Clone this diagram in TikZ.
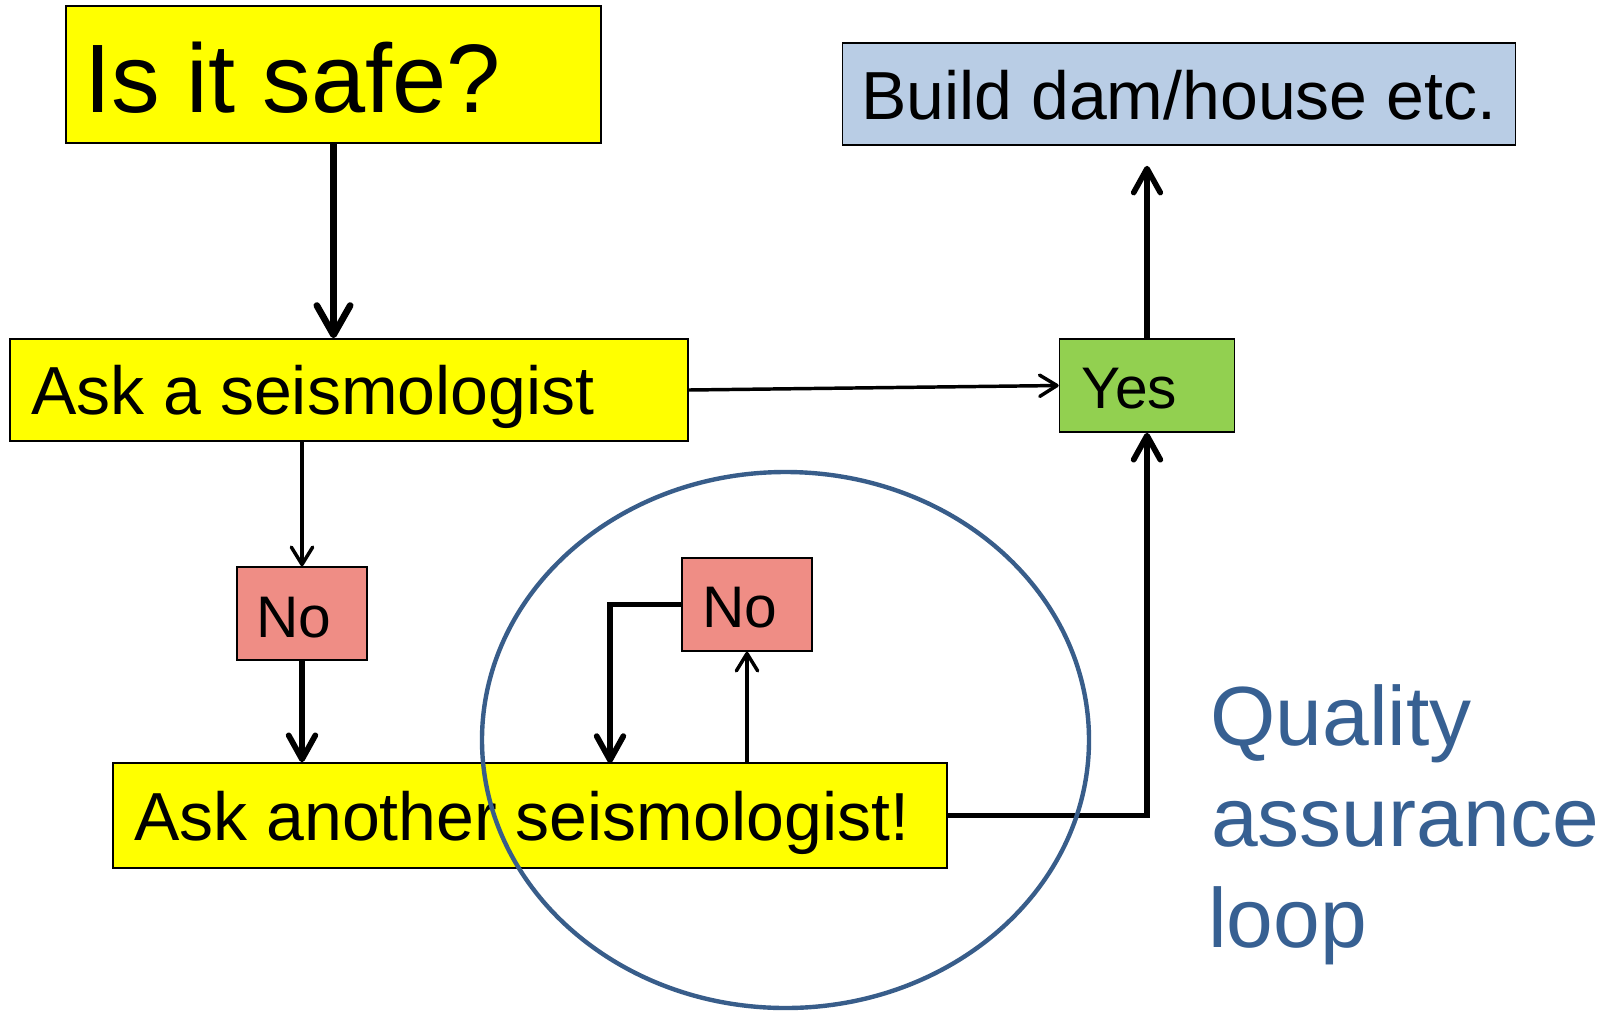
\documentclass[tikz,border=0pt]{standalone}
\usepackage{fontspec}
\setmainfont{Liberation Sans}
\usetikzlibrary{arrows.meta,shapes.geometric}
\definecolor{boxyellow}{HTML}{FFFF00}
\definecolor{boxblue}{HTML}{B9CDE5}
\definecolor{boxgreen}{HTML}{92D050}
\definecolor{boxred}{HTML}{EF8D85}
\definecolor{loopblue}{HTML}{385D8A}
\definecolor{qatext}{HTML}{376092}
\tikzset{
  box/.style={draw=black, line width=1.2pt, rectangle, inner sep=0pt},
  lbl/.style={anchor=base west, inner sep=0pt, text=black},
  bigtip/.style={-{Straight Barb[length=22pt,width=25pt,round]}, line width=5pt},
  thicktip/.style={-{Straight Barb[length=18pt,width=20pt,round]}, line width=4.3pt},
  midtip/.style={-{Straight Barb[length=18pt,width=20pt,round]}, line width=4.2pt},
  thintip/.style={-{Straight Barb[length=13pt,width=16pt,round]}, line width=2.6pt},
  qa/.style={anchor=base west, inner sep=0pt, text=qatext, font=\fontsize{63pt}{63pt}\selectfont}
}
\begin{document}
\begin{tikzpicture}[x=0.75pt, y=-0.75pt]
\useasboundingbox (0,0) rectangle (1617,1011);
% boxes
\node[box, fill=boxyellow, minimum width=401.25pt, minimum height=102.75pt] (safe) at (333.5,74.5) {};
\node[box, fill=boxyellow, minimum width=508.5pt, minimum height=76.5pt] (ask1) at (349,390) {};
\node[box, fill=boxblue, minimum width=504.75pt, minimum height=76.5pt] (build) at (1179,94) {};
\node[box, fill=boxgreen, minimum width=131.25pt, minimum height=69.75pt] (yes) at (1147,385.5) {};
\node[box, fill=boxred, minimum width=97.5pt, minimum height=69.75pt] (noL) at (302,613.5) {};
\node[box, fill=boxred, minimum width=97.5pt, minimum height=69.75pt] (noR) at (747,604.5) {};
\node[box, fill=boxyellow, minimum width=625.5pt, minimum height=78.75pt] (ask2) at (530,815.5) {};
% labels
\node[lbl, font=\fontsize{73pt}{73pt}\selectfont] (tsafe) at (84,112) {Is it safe?};
\node[lbl, font=\fontsize{51pt}{51pt}\selectfont] (task1) at (31,414) {Ask a seismologist};
\node[lbl, font=\fontsize{51pt}{51pt}\selectfont] (tbuild) at (861,119) {Build dam/house etc.};
\node[lbl, font=\fontsize{44pt}{44pt}\selectfont] (tyes) at (1081,408) {Yes};
\node[lbl, font=\fontsize{44pt}{44pt}\selectfont] (tnoL) at (256,637) {No};
\node[lbl, font=\fontsize{44pt}{44pt}\selectfont] (tnoR) at (702,627) {No};
\node[lbl, font=\fontsize{51pt}{51pt}\selectfont] (task2) at (134,840) {Ask another seismologist!};
\node[qa] (qa1) at (1210,745) {Quality};
\node[qa] (qa2) at (1211,846) {assurance};
\node[qa] (qa3) at (1208,947) {loop};
% connectors
\draw[bigtip] (safe.south) -- (safe.south |- ask1.north);
\draw[thintip] (noL.north |- ask1.south) -- (noL.north);
\draw[thicktip] (noL.south) -- (noL.south |- ask2.north);
\draw[thintip] (ask1.east) -- (yes.west);
\coordinate (buildend) at ([yshift=-15pt]build.south -| yes.north);
\draw[midtip] (yes.north) -- (buildend);
\draw[thicktip] (ask2.east) -| (yes.south);
\draw[thintip] (noR.south |- ask2.north) -- (noR.south);
\coordinate (loopend) at (610,763);
\draw[thicktip] (noR.west) -| (loopend);
% quality assurance loop ellipse
\node[draw=loopblue, line width=3.3pt, ellipse, minimum width=455.25pt, minimum height=402pt, inner sep=0pt] (loop) at (785.5,740) {};
\end{tikzpicture}
\end{document}
